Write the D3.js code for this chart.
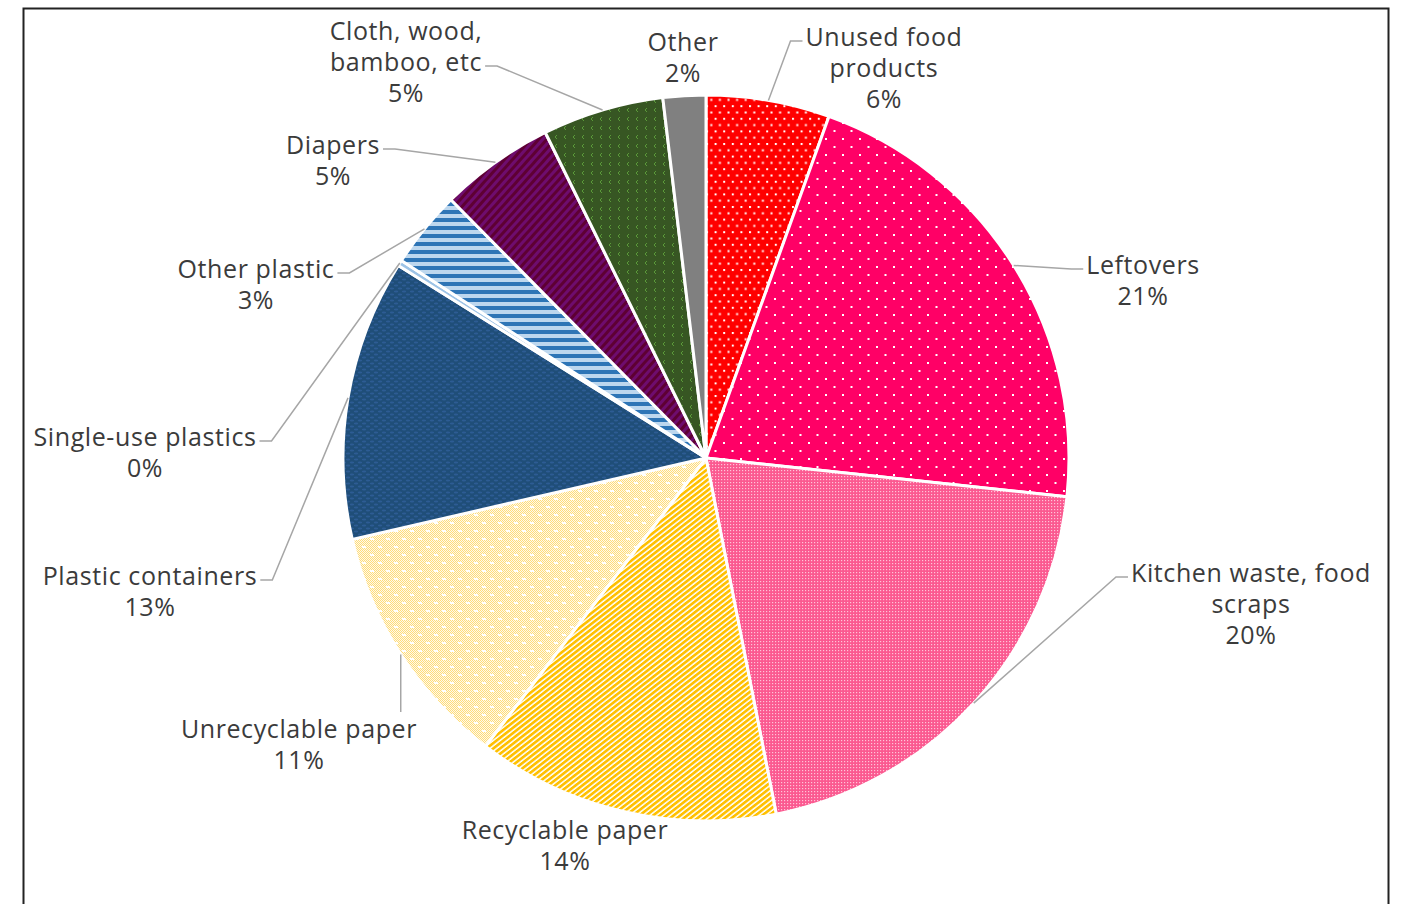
<!DOCTYPE html>
<html>
<head>
<meta charset="utf-8">
<script src="https://cdn.jsdelivr.net/npm/d3@7"></script>
<style>
  body { margin: 0; background: #fff; }
  text { font-family: "Open Sans", "Liberation Sans", sans-serif; }
</style>
</head>
<body>
<div id="pie"></div>
<script>
// data
const categories = [
  "Unused food products", "Leftovers", "Kitchen waste, food scraps",
  "Recyclable paper", "Unrecyclable paper", "Plastic containers",
  "Single-use plastics", "Other plastic", "Diapers",
  "Cloth, wood, bamboo, etc", "Other"
];
const shares = [5.5, 21.2, 20.2, 13.5, 11.0, 12.5, 0.25, 3.45, 5.1, 5.4, 1.9];
const labelLines = [
  ["Unused food", "products"], ["Leftovers"], ["Kitchen waste, food", "scraps"],
  ["Recyclable paper"], ["Unrecyclable paper"], ["Plastic containers"],
  ["Single-use plastics"], ["Other plastic"], ["Diapers"],
  ["Cloth, wood,", "bamboo, etc"], ["Other"]
];

// label placement (center x, first line y, leader side, line index of leader)
const labelLayout = [
  { x: 884, y: 36, side: "left", line: 0 },
  { x: 1143, y: 264, side: "left", line: 0 },
  { x: 1251, y: 572, side: "left", line: 0 },
  { x: 565, y: 829, side: "none" },
  { x: 299, y: 728, side: "top" },
  { x: 150, y: 575, side: "right", line: 0 },
  { x: 145, y: 436, side: "right", line: 0 },
  { x: 256, y: 268, side: "right", line: 0 },
  { x: 333, y: 144, side: "right", line: 0 },
  { x: 406, y: 30, side: "right", line: 1 },
  { x: 683, y: 41, side: "none" }
];

const width = 1408, height = 904;
const cx = 706, cy = 458, radius = 363;
const lineH = 31;

const svg = d3.select("#pie").append("svg")
  .attr("width", width).attr("height", height);

const defs = svg.append("defs");

// helper for simple patterns
function pattern(id, w, h, bg, transform) {
  const p = defs.append("pattern")
    .attr("id", id).attr("patternUnits", "userSpaceOnUse")
    .attr("width", w).attr("height", h);
  if (transform) p.attr("patternTransform", transform);
  p.append("rect").attr("width", w).attr("height", h).attr("fill", bg);
  return p;
}

// unused food: red with white dots
let p = pattern("pRed", 8.6, 12.6, "#ff0000");
p.append("rect").attr("x", 0).attr("y", 0).attr("width", 2).attr("height", 2).attr("fill", "#fff");
p.append("rect").attr("x", 4.3).attr("y", 6.3).attr("width", 2).attr("height", 2).attr("fill", "#fff");

// leftovers: deep pink with sparse dots
p = pattern("pLeft", 17, 16, "#ff0066");
p.append("rect").attr("x", 0).attr("y", 0).attr("width", 2).attr("height", 2).attr("fill", "#fff");
p.append("rect").attr("x", 8.5).attr("y", 8).attr("width", 2).attr("height", 2).attr("fill", "#fff");

// kitchen waste: pink small grid
p = pattern("pKitchen", 3, 3, "#fb5990");
p.append("rect").attr("width", 1.2).attr("height", 1.2).attr("fill", "#ffc4d8");

// recyclable paper: gold diagonal stripes
p = pattern("pRecy", 4.2, 4.2, "#fff", "rotate(-38)");
p.append("rect").attr("width", 4.2).attr("height", 2.7).attr("fill", "#ffc000");

// unrecyclable paper: pale yellow checker with white dashes
p = pattern("pCheck", 2, 2, "#fffaea");
p.append("rect").attr("width", 1).attr("height", 1).attr("fill", "#ffdc7a");
p.append("rect").attr("x", 1).attr("y", 1).attr("width", 1).attr("height", 1).attr("fill", "#ffdc7a");
p = pattern("pUnrecy", 16, 16, "url(#pCheck)");
p.append("rect").attr("x", 0).attr("y", 0).attr("width", 4).attr("height", 2).attr("fill", "#fff");
p.append("rect").attr("x", 8).attr("y", 8).attr("width", 4).attr("height", 2).attr("fill", "#fff");

// plastic containers: navy with faint ovals
p = pattern("pNavy", 8, 6, "#1f4e79");
p.append("ellipse").attr("cx", 2).attr("cy", 1.5).attr("rx", 2.2).attr("ry", 0.9).attr("fill", "#2d5c94");
p.append("ellipse").attr("cx", 6).attr("cy", 4.5).attr("rx", 2.2).attr("ry", 0.9).attr("fill", "#2d5c94");

// other plastic: horizontal blue stripes
p = pattern("pStripe", 8, 8, "#bdd7ee");
p.append("rect").attr("width", 8).attr("height", 4).attr("fill", "#2e75b6");

// diapers: maroon with purple diagonals
p = pattern("pDiaper", 6, 6, "#5e0033", "rotate(-48)");
p.append("rect").attr("width", 6).attr("height", 3).attr("fill", "#6e0c6e");

// cloth: dark green with light chevrons
p = pattern("pGreen", 9, 9, "#375623");
p.append("path").attr("d", "M4,1 L2,3 L4,5").attr("fill", "none")
  .attr("stroke", "#5b9a3a").attr("stroke-width", 1);

const fills = [
  "url(#pRed)", "url(#pLeft)", "url(#pKitchen)", "url(#pRecy)", "url(#pUnrecy)",
  "url(#pNavy)", "#9dc3e6", "url(#pStripe)", "url(#pDiaper)", "url(#pGreen)", "#808080"
];

// frame
svg.append("rect")
  .attr("x", 23.5).attr("y", 8.5)
  .attr("width", 1365).attr("height", 920)
  .attr("fill", "none").attr("stroke", "#222").attr("stroke-width", 2);

const pie = d3.pie().sort(null).value((d) => d);
const arcs = pie(shares);

const arc = d3.arc().innerRadius(0).outerRadius(radius);
const edge = d3.arc().innerRadius(radius).outerRadius(radius);

const g = svg.append("g").attr("transform", `translate(${cx},${cy})`);

// slices
g.selectAll("path.slice")
  .data(arcs)
  .enter()
  .append("path")
  .attr("class", "slice")
  .attr("d", arc)
  .attr("fill", (d, i) => fills[i])
  .attr("stroke", "#fff")
  .attr("stroke-width", 3)
  .attr("stroke-linejoin", "round");

// labels
const labels = svg.append("g");
arcs.forEach((d, i) => {
  const lay = labelLayout[i];
  const lines = labelLines[i].concat([Math.round(shares[i]) + "%"]);
  const t = labels.append("text")
    .attr("text-anchor", "middle")
    .attr("font-size", "25px")
    .attr("letter-spacing", "0.6px")
    .attr("fill", "#3b3b3b");
  const spans = lines.map((s, k) =>
    t.append("tspan")
      .attr("x", lay.x)
      .attr("y", lay.y + k * lineH)
      .attr("dominant-baseline", "central")
      .text(s)
  );

  if (lay.side === "none") return;

  // leader line from slice edge to label
  const [ex, ey] = edge.centroid(d);
  const px = cx + ex, py = cy + ey;
  let pts;
  if (lay.side === "top") {
    pts = [[px, py], [px, lay.y - 16]];
  } else {
    const w = spans[lay.line].node().getComputedTextLength();
    const ly = lay.y + lay.line * lineH + 5;
    const sx = lay.side === "left" ? lay.x - w / 2 - 3 : lay.x + w / 2 + 3;
    const bx = lay.side === "left" ? sx - 12 : sx + 12;
    pts = [[sx, ly], [bx, ly], [px, py]];
  }
  svg.append("path")
    .attr("d", d3.line()(pts))
    .attr("fill", "none")
    .attr("stroke", "#a6a6a6")
    .attr("stroke-width", 1.5);
});
</script>
</body>
</html>
